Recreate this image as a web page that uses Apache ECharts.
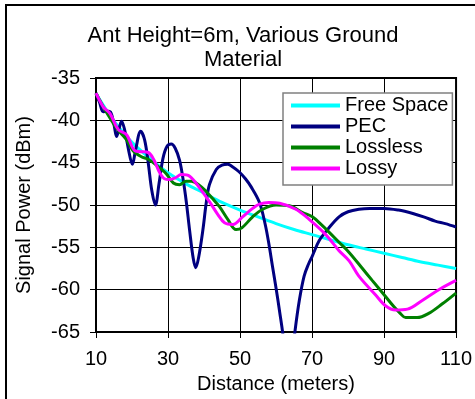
<!DOCTYPE html>
<html>
<head>
<meta charset="utf-8">
<script src="https://cdn.jsdelivr.net/npm/echarts@6/dist/echarts.min.js"></script>
<style>
    html, body { margin: 0; padding: 0; background: #fff; }
    #chart { width: 475px; height: 399px; }
</style>
</head>
<body>
<div id="chart"></div>
<script>
// series names
var seriesNames = ['Free Space', 'PEC', 'Lossless', 'Lossy'];

// Free Space
var freeDist = [10, 12, 15, 20, 25, 30, 35, 40, 45, 50, 55, 60, 65, 70, 75, 80, 85, 90, 95, 100, 105, 110];
var freeSig = [-36.8, -38.2, -40.1, -42.6, -44.5, -46.2, -47.5, -48.6, -49.7, -50.6, -51.4, -52.2, -52.9, -53.5, -54.1, -54.7, -55.2, -55.7, -56.2, -56.7, -57.1, -57.5];

// PEC (goes below -65 around 63m, clipped by the axis)
var pecDist = [10, 11, 12, 13, 14, 15, 15.7, 16.4, 17.1, 18, 19, 20.1, 21, 22.4, 23.5, 24.5, 25.5, 26.5, 27.5, 28.6, 29.7, 30.9, 32, 33.2, 34.2, 35.1, 36, 37, 37.7, 38.5, 39.7, 40.6, 41.5, 43.4, 45, 46.6, 48, 49.8, 51.5, 53, 55.4, 57, 58.1, 59, 60, 61, 62, 63.5, 64.5, 65.3, 66.5, 67.8, 69, 70.1, 72, 74.5, 77.5, 80, 83, 86, 90, 94, 98, 101, 104.2, 107, 110];
var pecSig = [-36.8, -37.9, -39.0, -38.9, -39.0, -40.5, -41.9, -41.0, -40.1, -41.2, -43.4, -45.2, -43.5, -41.3, -42.3, -45.0, -48.3, -50.0, -47.5, -44.5, -43.1, -42.8, -43.3, -44.7, -47.0, -49.7, -53.0, -56.3, -57.4, -56.2, -52.9, -49.8, -47.6, -45.8, -45.3, -45.2, -45.5, -46.1, -46.9, -47.8, -49.7, -52.3, -54.8, -57.2, -59.8, -62.6, -65.6, -72.0, -68.0, -64.8, -61.2, -58.4, -57.0, -56.0, -54.2, -52.8, -51.4, -50.8, -50.5, -50.4, -50.4, -50.6, -51.0, -51.4, -51.9, -52.2, -52.6];

// Lossless
var losslessDist = [10, 12, 14, 16, 18.5, 20.3, 22.6, 24.5, 26.8, 29.5, 31.5, 33.2, 35, 36.5, 38.5, 40.6, 42.5, 44.3, 46.6, 48.9, 50.5, 53.5, 56.3, 60, 63.7, 67.4, 70.1, 72.5, 74.7, 77.5, 80.3, 84, 86.7, 90, 92.7, 94.5, 96, 99.2, 102.4, 106.1, 110];
var losslessSig = [-36.8, -38.4, -39.8, -41.1, -42.3, -43.6, -44.3, -44.6, -45.3, -46.3, -47.4, -47.6, -47.2, -47.2, -47.6, -48.4, -49.3, -50.2, -51.7, -52.9, -52.7, -51.4, -50.5, -50.0, -50.1, -50.9, -51.4, -52.3, -53.2, -54.4, -55.6, -57.5, -58.9, -60.6, -62.0, -62.8, -63.3, -63.3, -62.8, -61.7, -60.4];

// Lossy
var lossyDist = [10, 12, 13.9, 16.2, 18.5, 20.8, 22.5, 24.5, 26, 27.7, 29, 30.5, 32, 33.7, 36, 38.8, 41.5, 43.8, 45.7, 48, 50.7, 53.5, 55.4, 58, 61, 65.5, 69.2, 73.8, 77.5, 80.3, 83, 87.6, 90.4, 93.2, 96.5, 100.5, 105.2, 110];
var lossySig = [-36.8, -38.4, -39.2, -41.1, -41.7, -43.6, -43.7, -43.8, -44.6, -46.2, -46.9, -47.0, -46.8, -46.4, -46.6, -48.0, -49.6, -51.1, -52.1, -52.3, -51.4, -50.4, -49.9, -49.7, -49.8, -50.5, -51.7, -53.5, -55.4, -56.6, -58.4, -60.6, -61.9, -62.4, -62.3, -61.3, -60.0, -58.9];

var lineColors = ['#00ffff', '#000080', '#008000', '#ff00ff'];
var fontFamily = '"Liberation Sans", Arial, sans-serif';

function pairs(xs, ys) {
    var out = [];
    for (var i = 0; i < xs.length; i++) {
        out.push([xs[i], ys[i]]);
    }
    return out;
}

function lineSeries(name, data, color) {
    return {
        name: name,
        type: 'line',
        data: data,
        smooth: 0.35,
        symbol: 'none',
        clip: true,
        lineStyle: { color: color, width: 3 },
        itemStyle: { color: color }
    };
}

var myChart = echarts.init(document.getElementById('chart'), null, { renderer: 'canvas' });

var option = {
    animation: false,
    backgroundColor: '#fff',
    textStyle: { fontFamily: fontFamily, color: '#000' },
    // outer frame (cut off on right and bottom like the picture)
    graphic: [{
        type: 'rect',
        shape: { x: 6, y: 5, width: 500, height: 420 },
        style: { fill: null, stroke: '#000', lineWidth: 2 },
        silent: true
    }],
    title: {
        text: 'Ant Height=6m, Various Ground\nMaterial',
        left: 238,
        textAlign: 'center',
        top: 19,
        textStyle: { fontFamily: fontFamily, fontSize: 22, fontWeight: 'normal', lineHeight: 24, color: '#000' }
    },
    legend: {
        orient: 'vertical',
        left: 283,
        top: 93,
        data: seriesNames,
        icon: 'rect',
        itemWidth: 49,
        itemHeight: 4,
        itemGap: 0,
        padding: [2, 4, 6, 8],
        backgroundColor: '#fff',
        borderColor: '#808080',
        borderWidth: 1.5,
        borderRadius: 0,
        textStyle: { fontFamily: fontFamily, fontSize: 20, lineHeight: 21, color: '#000' }
    },
    grid: {
        left: 96,
        right: 17,
        top: 78,
        bottom: 66,
        show: true,
        borderColor: '#000',
        borderWidth: 2,
        containLabel: false
    },
    xAxis: {
        type: 'value',
        min: 10,
        max: 110,
        interval: 20,
        name: 'Distance (meters)',
        nameLocation: 'middle',
        nameGap: 42,
        nameTextStyle: { fontFamily: fontFamily, fontSize: 20, color: '#000' },
        axisLine: { show: true, lineStyle: { color: '#000', width: 2 } },
        axisTick: { show: true, length: 6, lineStyle: { color: '#000', width: 1 } },
        axisLabel: { margin: 17, fontFamily: fontFamily, fontSize: 20, color: '#000' },
        splitLine: { show: true, lineStyle: { color: '#000', width: 1 } }
    },
    yAxis: {
        type: 'value',
        min: -65,
        max: -35,
        interval: 5,
        name: 'Signal Power (dBm)',
        nameLocation: 'middle',
        nameRotate: 90,
        nameGap: 62,
        nameTextStyle: { fontFamily: fontFamily, fontSize: 20, color: '#000' },
        axisLine: { show: true, lineStyle: { color: '#000', width: 2 } },
        axisTick: { show: true, length: 6, lineStyle: { color: '#000', width: 1 } },
        axisLabel: { margin: 16, fontFamily: fontFamily, fontSize: 20, color: '#000' },
        splitLine: { show: true, lineStyle: { color: '#000', width: 1 } }
    },
    series: [
        lineSeries(seriesNames[0], pairs(freeDist, freeSig), lineColors[0]),
        lineSeries(seriesNames[1], pairs(pecDist, pecSig), lineColors[1]),
        lineSeries(seriesNames[2], pairs(losslessDist, losslessSig), lineColors[2]),
        lineSeries(seriesNames[3], pairs(lossyDist, lossySig), lineColors[3])
    ]
};

myChart.setOption(option);
</script>
</body>
</html>
